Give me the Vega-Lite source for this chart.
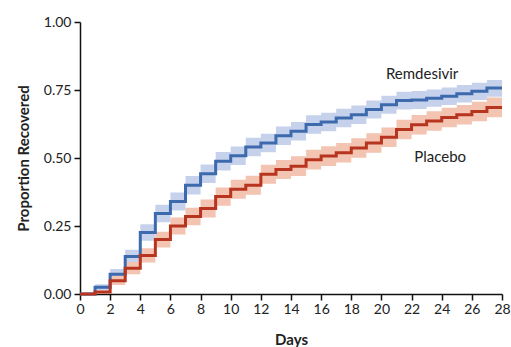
{
  "$schema": "https://vega.github.io/schema/vega-lite/v6.json",
  "width": 422,
  "height": 272,
  "autosize": {"type": "none"},
  "padding": {"left": 80, "top": 22, "right": 9, "bottom": 53},
  "background": "white",
  "config": {
    "view": {"stroke": null},
    "font": "Lato",
    "axis": {
      "domainColor": "#111",
      "domainWidth": 1.5,
      "tickColor": "#111",
      "tickWidth": 1.5,
      "tickSize": 6,
      "labelFont": "Lato",
      "labelFontSize": 14,
      "labelColor": "#222",
      "labelOverlap": false,
      "labelFlush": false,
      "titleFont": "Lato",
      "titleFontSize": 15,
      "titleFontWeight": "bold",
      "titleColor": "#222",
      "grid": false
    }
  },
  "datasets": {
    "curves": [
      {"day": 0, "arm": "Remdesivir", "est": 0.0, "lo": 0.0, "hi": 0.0},
      {"day": 1, "arm": "Remdesivir", "est": 0.025, "lo": 0.015, "hi": 0.036},
      {"day": 2, "arm": "Remdesivir", "est": 0.073, "lo": 0.055, "hi": 0.092},
      {"day": 3, "arm": "Remdesivir", "est": 0.138, "lo": 0.113, "hi": 0.163},
      {"day": 4, "arm": "Remdesivir", "est": 0.226, "lo": 0.196, "hi": 0.256},
      {"day": 5, "arm": "Remdesivir", "est": 0.296, "lo": 0.264, "hi": 0.328},
      {"day": 6, "arm": "Remdesivir", "est": 0.340, "lo": 0.307, "hi": 0.373},
      {"day": 7, "arm": "Remdesivir", "est": 0.400, "lo": 0.366, "hi": 0.434},
      {"day": 8, "arm": "Remdesivir", "est": 0.442, "lo": 0.408, "hi": 0.476},
      {"day": 9, "arm": "Remdesivir", "est": 0.488, "lo": 0.454, "hi": 0.522},
      {"day": 10, "arm": "Remdesivir", "est": 0.508, "lo": 0.474, "hi": 0.542},
      {"day": 11, "arm": "Remdesivir", "est": 0.540, "lo": 0.506, "hi": 0.574},
      {"day": 12, "arm": "Remdesivir", "est": 0.555, "lo": 0.521, "hi": 0.589},
      {"day": 13, "arm": "Remdesivir", "est": 0.582, "lo": 0.548, "hi": 0.616},
      {"day": 14, "arm": "Remdesivir", "est": 0.598, "lo": 0.564, "hi": 0.632},
      {"day": 15, "arm": "Remdesivir", "est": 0.623, "lo": 0.589, "hi": 0.657},
      {"day": 16, "arm": "Remdesivir", "est": 0.632, "lo": 0.598, "hi": 0.666},
      {"day": 17, "arm": "Remdesivir", "est": 0.647, "lo": 0.613, "hi": 0.681},
      {"day": 18, "arm": "Remdesivir", "est": 0.659, "lo": 0.625, "hi": 0.693},
      {"day": 19, "arm": "Remdesivir", "est": 0.678, "lo": 0.645, "hi": 0.711},
      {"day": 20, "arm": "Remdesivir", "est": 0.696, "lo": 0.663, "hi": 0.729},
      {"day": 21, "arm": "Remdesivir", "est": 0.711, "lo": 0.678, "hi": 0.744},
      {"day": 22, "arm": "Remdesivir", "est": 0.713, "lo": 0.680, "hi": 0.746},
      {"day": 23, "arm": "Remdesivir", "est": 0.720, "lo": 0.688, "hi": 0.752},
      {"day": 24, "arm": "Remdesivir", "est": 0.727, "lo": 0.695, "hi": 0.759},
      {"day": 25, "arm": "Remdesivir", "est": 0.736, "lo": 0.704, "hi": 0.768},
      {"day": 26, "arm": "Remdesivir", "est": 0.745, "lo": 0.713, "hi": 0.777},
      {"day": 27, "arm": "Remdesivir", "est": 0.757, "lo": 0.725, "hi": 0.787},
      {"day": 28, "arm": "Remdesivir", "est": 0.757, "lo": 0.725, "hi": 0.787},
      {"day": 0, "arm": "Placebo", "est": 0.0, "lo": 0.0, "hi": 0.0},
      {"day": 1, "arm": "Placebo", "est": 0.007, "lo": 0.002, "hi": 0.013},
      {"day": 2, "arm": "Placebo", "est": 0.049, "lo": 0.033, "hi": 0.066},
      {"day": 3, "arm": "Placebo", "est": 0.095, "lo": 0.073, "hi": 0.118},
      {"day": 4, "arm": "Placebo", "est": 0.142, "lo": 0.116, "hi": 0.168},
      {"day": 5, "arm": "Placebo", "est": 0.200, "lo": 0.171, "hi": 0.229},
      {"day": 6, "arm": "Placebo", "est": 0.250, "lo": 0.219, "hi": 0.281},
      {"day": 7, "arm": "Placebo", "est": 0.285, "lo": 0.253, "hi": 0.317},
      {"day": 8, "arm": "Placebo", "est": 0.314, "lo": 0.281, "hi": 0.347},
      {"day": 9, "arm": "Placebo", "est": 0.358, "lo": 0.324, "hi": 0.392},
      {"day": 10, "arm": "Placebo", "est": 0.385, "lo": 0.350, "hi": 0.420},
      {"day": 11, "arm": "Placebo", "est": 0.400, "lo": 0.365, "hi": 0.435},
      {"day": 12, "arm": "Placebo", "est": 0.440, "lo": 0.405, "hi": 0.475},
      {"day": 13, "arm": "Placebo", "est": 0.458, "lo": 0.423, "hi": 0.493},
      {"day": 14, "arm": "Placebo", "est": 0.470, "lo": 0.434, "hi": 0.506},
      {"day": 15, "arm": "Placebo", "est": 0.494, "lo": 0.458, "hi": 0.530},
      {"day": 16, "arm": "Placebo", "est": 0.507, "lo": 0.471, "hi": 0.543},
      {"day": 17, "arm": "Placebo", "est": 0.519, "lo": 0.483, "hi": 0.555},
      {"day": 18, "arm": "Placebo", "est": 0.537, "lo": 0.501, "hi": 0.573},
      {"day": 19, "arm": "Placebo", "est": 0.555, "lo": 0.519, "hi": 0.591},
      {"day": 20, "arm": "Placebo", "est": 0.576, "lo": 0.540, "hi": 0.612},
      {"day": 21, "arm": "Placebo", "est": 0.605, "lo": 0.569, "hi": 0.641},
      {"day": 22, "arm": "Placebo", "est": 0.622, "lo": 0.586, "hi": 0.658},
      {"day": 23, "arm": "Placebo", "est": 0.636, "lo": 0.600, "hi": 0.672},
      {"day": 24, "arm": "Placebo", "est": 0.649, "lo": 0.613, "hi": 0.685},
      {"day": 25, "arm": "Placebo", "est": 0.659, "lo": 0.623, "hi": 0.695},
      {"day": 26, "arm": "Placebo", "est": 0.671, "lo": 0.635, "hi": 0.707},
      {"day": 27, "arm": "Placebo", "est": 0.686, "lo": 0.650, "hi": 0.722},
      {"day": 28, "arm": "Placebo", "est": 0.686, "lo": 0.650, "hi": 0.722}
    ],
    "labels": [
      {"day": 22.7, "prop": 0.81, "text": "Remdesivir"},
      {"day": 23.9, "prop": 0.505, "text": "Placebo"}
    ]
  },
  "encoding": {
    "x": {"field": "day", "type": "quantitative",
          "scale": {"domain": [0, 28], "nice": false},
          "axis": {"title": "Days", "values": [0,2,4,6,8,10,12,14,16,18,20,22,24,26,28], "labelOverlap": false, "labelPadding": 2, "titlePadding": 16}}
  },
  "layer": [
    {
      "data": {"name": "curves"},
      "mark": {"type": "area", "interpolate": "step-after", "opacity": 1},
      "encoding": {
        "y": {"field": "lo", "type": "quantitative",
              "scale": {"domain": [0, 1], "nice": false},
              "axis": {"title": "Proportion Recovered", "values": [0, 0.25, 0.5, 0.75, 1], "format": ".2f", "labelPadding": 3, "titlePadding": 12}},
        "y2": {"field": "hi"},
        "fill": {"field": "arm", "type": "nominal",
                 "scale": {"domain": ["Remdesivir", "Placebo"], "range": ["#c6d2ec", "#f3c4b2"]},
                 "legend": null}
      }
    },
    {
      "data": {"name": "curves"},
      "mark": {"type": "line", "interpolate": "step-after", "strokeWidth": 3},
      "encoding": {
        "y": {"field": "est", "type": "quantitative"},
        "stroke": {"field": "arm", "type": "nominal",
                   "scale": {"domain": ["Remdesivir", "Placebo"], "range": ["#3d6aad", "#b7341f"]},
                   "legend": null}
      }
    },
    {
      "data": {"name": "labels"},
      "mark": {"type": "text", "font": "Lato", "fontSize": 15, "color": "#222"},
      "encoding": {
        "y": {"field": "prop", "type": "quantitative"},
        "text": {"field": "text"}
      }
    }
  ]
}
